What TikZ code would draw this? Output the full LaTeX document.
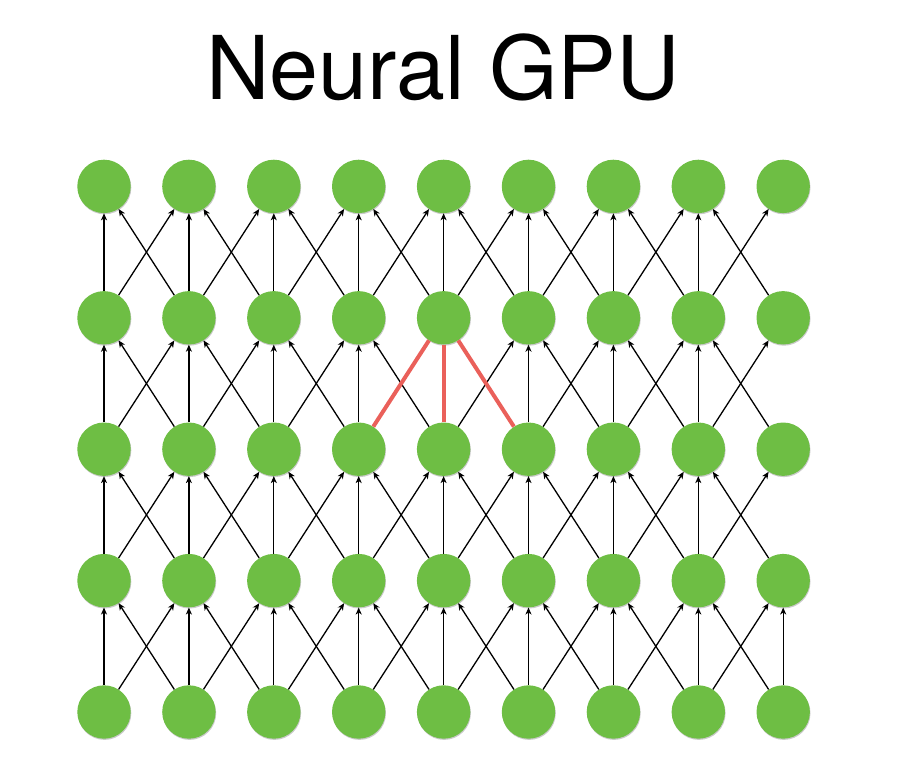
\documentclass[tikz,border=0pt]{standalone}
\usepackage{fontspec}
\setmainfont{TeX Gyre Heros}
\usetikzlibrary{arrows.meta,shadows}
\definecolor{nodegreen}{RGB}{110,190,68}
\definecolor{linkred}{RGB}{234,96,90}
\tikzset{
 cell/.style={circle,fill=nodegreen,minimum size=53.4pt,inner sep=0pt,draw=none,
   drop shadow={shadow xshift=0.6pt,shadow yshift=-1.2pt,opacity=0.35,fill=black!60}},
 link/.style={line width=1.3pt,-{Stealth[length=7pt,width=6pt,inset=2pt]}},
 focus/.style={line width=4pt,draw=linkred},
 titletext/.style={font=\fontsize{88}{100}\selectfont,anchor=base,inner sep=0pt},
}
\begin{document}
\begin{tikzpicture}[x=1pt,y=-1pt]
\useasboundingbox (0,0) rectangle (898,781);
\node[titletext] (title) at (443,100) {Neural GPU};
\foreach \r in {0,...,4}{
  \foreach \i in {0,...,8}{
    \node[cell] (n-\i-\r) at ({104+84.9*\i},{712-131.4*\r}) {};
  }
}
\foreach \r in {0,...,3}{
  \pgfmathtruncatemacro\s{\r+1}
  \foreach \i in {0,...,8}{
    \pgfmathtruncatemacro\l{\i-1}
    \pgfmathtruncatemacro\h{\i+1}
    \pgfmathtruncatemacro\skipL{and(\r==2,\i==5)}
    \pgfmathtruncatemacro\skipR{and(\r==2,\i==3)}
    \pgfmathtruncatemacro\doV{and(or(\i<8,\r==0),not(and(\r==2,\i==4)))}
    \ifnum\i>0 \ifnum\skipL=0 \draw[link] (n-\i-\r) -- (n-\l-\s); \fi\fi
    \ifnum\i<8 \ifnum\skipR=0 \draw[link] (n-\i-\r) -- (n-\h-\s); \fi\fi
    \ifnum\doV=1 \draw[link] (n-\i-\r) -- (n-\i-\s); \fi
  }
}
\draw[focus] (n-3-2) -- (n-4-3);
\draw[focus] (n-4-2) -- (n-4-3);
\draw[focus] (n-5-2) -- (n-4-3);
\end{tikzpicture}
\end{document}
